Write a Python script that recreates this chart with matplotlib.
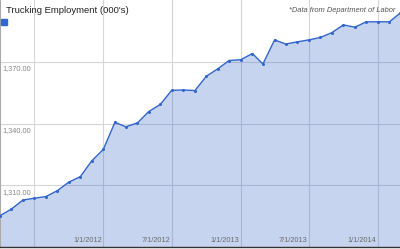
import pandas as pd
import matplotlib.pyplot as plt
import matplotlib.dates as mdates
from matplotlib.patches import Rectangle

plt.rcParams['font.family'] = ['Liberation Sans', 'DejaVu Sans']

# Monthly trucking employment (thousands), Apr 2011 - Mar 2014
months = pd.date_range('2011-04-01', periods=36, freq='MS')
employment = [1295.2, 1298.4, 1302.8, 1303.7, 1304.5, 1307.4, 1311.5, 1314.2,
              1321.8, 1327.4, 1340.6, 1338.4, 1340.3, 1345.8, 1349.3, 1356.1,
              1356.3, 1356.0, 1362.9, 1366.6, 1370.6, 1371.0, 1374.0, 1368.9,
              1380.6, 1378.6, 1379.7, 1380.6, 1381.8, 1384.2, 1387.9, 1386.8,
              1389.4, 1389.4, 1389.4, 1393.6]

y_ticks = [1310, 1340, 1370]
x_ticks = pd.to_datetime(['2011-07-01', '2012-01-01', '2012-07-01',
                          '2013-01-01', '2013-07-01', '2014-01-01'])
x_labels = ['', '1/1/2012', '7/1/2012', '1/1/2013', '7/1/2013', '1/1/2014']

fig = plt.figure(figsize=(4, 2.49), dpi=100)
ax = fig.add_axes([0, 2 / 249, 1, 247 / 249])

line_color = '#3366cc'
ax.fill_between(months, employment, 1280, color=line_color, alpha=0.28,
                linewidth=0, zorder=2)
ax.plot(months, employment, color=line_color, lw=1.0, marker='o',
        markersize=1.2, zorder=3)

ax.set_xlim(months[0], months[-1])
ax.set_ylim(1280, 1400)

# gridlines
ax.set_xticks(x_ticks)
ax.set_yticks(y_ticks)
ax.grid(True, color='#d6d6d6', lw=0.8, zorder=1)
ax.tick_params(length=0, labelbottom=False, labelleft=False)

for s in ['top', 'right']:
    ax.spines[s].set_visible(False)
ax.spines['left'].set_color('#aaaaaa')
ax.spines['left'].set_linewidth(0.8)
ax.spines['bottom'].set_color('#333333')
ax.spines['bottom'].set_linewidth(1.0)

# y labels just under each gridline
for v in y_ticks:
    ax.annotate(f'{v:,.2f}', xy=(0, v), xycoords=('axes fraction', 'data'),
                xytext=(2, -2.5), textcoords='offset points',
                ha='left', va='top', fontsize=5.3, color='#888888')

# x labels right-aligned to their gridlines, inside plot bottom
for d, lab in zip(x_ticks, x_labels):
    if lab:
        ax.annotate(lab, xy=(mdates.date2num(d), 0),
                    xycoords=('data', 'axes fraction'),
                    xytext=(-1, 2.5), textcoords='offset points',
                    ha='right', va='bottom', fontsize=5.3, color='#6a6a6a')

fig.text(6 / 400, 1 - 10 / 249, "Trucking Employment (000's)", fontsize=6.8,
         color='#222222', ha='left', va='center')
fig.text(395 / 400, 1 - 11 / 249, '*Data from Department of Labor',
         fontsize=5.4, style='italic', color='#555555', ha='right',
         va='center')
fig.patches.append(Rectangle((1 / 400, 1 - 25 / 249), 6 / 400, 6 / 249,
                             transform=fig.transFigure, color=line_color))

fig.savefig('out.png', dpi=100)
